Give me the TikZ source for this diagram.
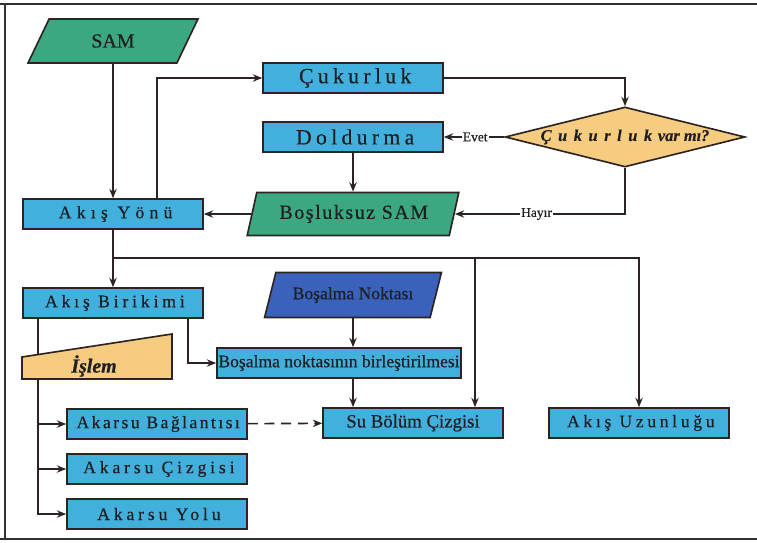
\documentclass[tikz,border=0pt]{standalone}
\usepackage{fontspec}
\setmainfont{Liberation Serif}[FakeBold=0.4]
\usetikzlibrary{arrows.meta, shapes.geometric}
\definecolor{cBox}{RGB}{66,176,220}
\definecolor{cData}{RGB}{60,168,128}
\definecolor{cOutlet}{RGB}{58,98,186}
\definecolor{cQuery}{RGB}{246,204,128}
\definecolor{cLine}{RGB}{45,35,35}
\definecolor{cText}{RGB}{30,30,35}
\definecolor{cFrame}{RGB}{50,50,50}

% letter-spaced label text (the trailing gap is taken back so it stays centred)
\newcommand{\spaced}[2]{{\addfontfeatures{LetterSpace=#1}#2\kern-\dimexpr #1em/100\relax}}
\newcommand{\fs}[1]{\fontsize{#1}{#1}\selectfont}

\begin{document}
\begin{tikzpicture}[x=0.3mm, y=-0.3mm,
        box/.style={rectangle, draw=cLine, line width=1.4pt, fill=cBox, minimum width=54mm,
        minimum height=9mm, inner sep=0pt, text=cText, font=\fs{15}},
        data/.style={trapezium, trapezium stretches=true, draw=cLine, line width=1.4pt,
        inner sep=0pt, text=cText},
        query/.style={diamond, aspect=4, draw=cLine, line width=1.4pt, fill=cQuery, inner sep=0pt,
        minimum width=72mm, minimum height=18mm, text=cText, font=\fs{14}\bfseries\itshape},
        arrow/.style={-{Stealth[length=2.8mm, width=2.2mm]}, line width=1.4pt, draw=cLine},
        flow/.style={line width=1.4pt, draw=cLine},
        answer/.style={font=\fs{11.5}, fill=white, inner sep=1pt, text=cText}
    ]

        \useasboundingbox (0,0) rectangle (757,542);
        \draw[line width=0.6mm, cFrame] (0,4) -- (757,4) (5,4) -- (5,539) (0,539) -- (757,539);

        % --- pit filling ---
        \node[data, fill=cData, trapezium left angle=62, trapezium right angle=118,
            minimum width=51mm, minimum height=13.2mm, font=\fs{17}] (sam) at (113,41) {SAM};
        \node[box, font=\fs{18.5}] (cukur)  at (353,78)  {\spaced{20}{Çukurluk}};
        \node[box, font=\fs{18.5}] (doldur) at (353,137) {\spaced{20}{Doldurma}};
        \node[query] (soru) at (625,137) {\spaced{40}{Çukurluk}\hspace{0.75em}var mı?};
        \node[data, fill=cData, trapezium left angle=68, trapezium right angle=112,
            minimum width=63.6mm, minimum height=12.9mm, font=\fs{17}] (bossuz) at (353,214) {\spaced{8}{Boşluksuz SAM}};
        \node[box] (yon) at (113,214) {\spaced{30}{Akış Yönü}};

        \draw[arrow] (sam) -- (yon);
        \draw[arrow] ([xshift=13.2mm]yon.north) |- (cukur);
        \draw[arrow] (cukur) -| (soru);
        \draw[arrow] (soru) -- node[answer, pos=0.48] {Evet} (doldur);
        \draw[arrow] (soru) |- node[answer, pos=0.76] {Hayır} (bossuz);
        \draw[arrow] (doldur) -- (bossuz);
        \draw[arrow] (bossuz) -- (yon);

        % --- accumulation and outlets ---
        \node[box] (birikim) at (113,303) {\spaced{22}{Akış Birikimi}};
        \node[data, fill=cOutlet, trapezium left angle=61, trapezium right angle=119,
            minimum width=53.1mm, minimum height=13.5mm, font=\fs{15}] (nokta) at (353,295) {Boşalma Noktası};
        \node[box, minimum width=73.2mm] (birles) at (339,363) {Boşalma noktasının birleştirilmesi};
        \node[box, font=\fs{16}] (subolum) at (413,423) {Su Bölüm Çizgisi};
        \node[box] (uzunluk) at (639,423) {\spaced{21}{Akış Uzunluğu}};

        \coordinate (split) at (113,258);
        \draw[arrow] (yon) -- (birikim);
        \draw[flow] (split) -- (split -| uzunluk);
        \draw[arrow] (split) -| ([xshift=18.6mm]subolum.north);
        \draw[arrow] (split) -| (uzunluk);
        \draw[arrow] (nokta.south) -- (nokta.south |- birles.north);
        \draw[arrow] (birles.south -| nokta.south) -- (nokta.south |- subolum.north);
        \draw[arrow] ([xshift=22.5mm]birikim.south) |- (birles);

        % --- stream network ---
        \node[box] (baglanti) at (157,424) {\spaced{14}{Akarsu Bağlantısı}};
        \node[box] (cizgi)    at (157,469) {\spaced{22}{Akarsu Çizgisi}};
        \node[box] (yol)      at (157,514) {\spaced{22}{Akarsu Yolu}};

        \coordinate (trunk) at ([xshift=-22.5mm]birikim.south);
        \draw[arrow] (trunk) |- (baglanti);
        \draw[arrow] (trunk) |- (cizgi);
        \draw[arrow] (trunk) |- (yol);
        \draw[arrow, dashed, dash pattern=on 3mm off 2mm] (baglanti) -- (subolum);

        % manual operation shape over the trunk line
        \filldraw[fill=cQuery, draw=cLine, line width=1.4pt] (22,357) -- (172,334) -- (172,379) -- (22,379) -- cycle;
        \node[text=cText, font=\fs{17}\bfseries\itshape] (islem) at (94,366) {İşlem};

    \end{tikzpicture}
\end{document}
